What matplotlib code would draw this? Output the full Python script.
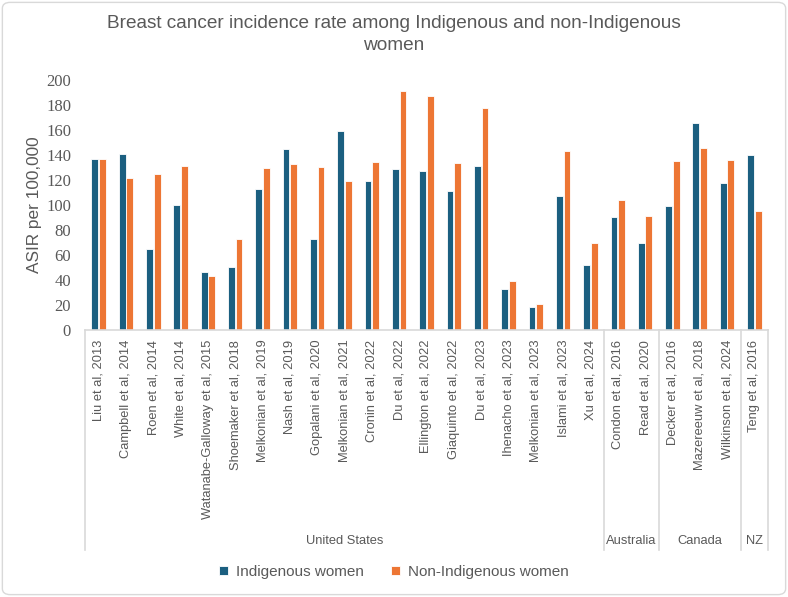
import matplotlib.pyplot as plt
import numpy as np
from matplotlib.patches import FancyBboxPatch

# region data
studies = ["Liu et al, 2013", "Campbell et al, 2014", "Roen et al, 2014", "White et al, 2014",
           "Watanabe-Galloway et al, 2015", "Shoemaker et al, 2018", "Melkonian et al, 2019",
           "Nash et al, 2019", "Gopalani et al, 2020", "Melkonian et al, 2021", "Cronin et al, 2022",
           "Du et al, 2022", "Ellington et al, 2022", "Giaquinto et al, 2022", "Du et al, 2023",
           "Ihenacho et al, 2023", "Melkonian et al, 2023", "Islami et al, 2023", "Xu et al, 2024",
           "Condon et al, 2016", "Read et al, 2020",
           "Decker et al, 2016", "Mazereeuw et al, 2018", "Wilkinson et al, 2024",
           "Teng et al, 2016"]
indigenous = [137, 140.5, 64.7, 100, 46.5, 50.8, 112.6, 145.2, 72.5, 159, 119, 129,
              127.5, 111.5, 131.6, 32.9, 18.5, 107, 52.4,
              90.6, 69.8,
              99.5, 165.5, 117.4,
              140]
non_indigenous = [137, 121.7, 125, 131.6, 43, 73, 130, 133.2, 130.8, 119, 134.8, 191,
                  187, 133.7, 177.3, 39.6, 20.9, 143, 69.3,
                  104.3, 91.5,
                  135, 146, 135.8,
                  95.5]
countries = ["United States", "Australia", "Canada", "NZ"]
country_counts = [19, 2, 3, 1]
# endregion

blue = "#1b5f80"
orange = "#ed7634"
gray = "#595959"
line_gray = "#d9d9d9"

fig = plt.figure(figsize=(7.88, 5.97), dpi=100)
ax = fig.add_axes([85 / 788, (597 - 330) / 597, (768 - 85) / 788, 250 / 597])

x = np.arange(len(studies))
w = 0.25
ax.bar(x - 0.14, indigenous, w, color=blue, edgecolor="white", linewidth=0.6, label="Indigenous women")
ax.bar(x + 0.14, non_indigenous, w, color=orange, edgecolor="white", linewidth=0.6, label="Non-Indigenous women")

ax.set_xlim(-0.5, len(studies) - 0.5)
ax.set_ylim(0, 200)
ax.set_yticks(range(0, 201, 20))
for lab in ax.get_yticklabels():
    lab.set_family("Liberation Serif")
ax.tick_params(axis="y", length=0, labelsize=12, labelcolor=gray, pad=10)
ax.set_xticks(x)
ax.set_xticklabels(studies, rotation=90, fontsize=9.3, color=gray, family="Liberation Sans")
ax.tick_params(axis="x", length=0, pad=7)

for s in ["top", "right", "left"]:
    ax.spines[s].set_visible(False)
ax.spines["bottom"].set_color(line_gray)
ax.spines["bottom"].set_linewidth(1.2)

ax.set_ylabel("ASIR per 100,000", fontsize=12.4, color=gray, family="Liberation Sans", labelpad=3)

# country separators and labels below the axis
tr = ax.get_xaxis_transform()
edges = np.concatenate([[0], np.cumsum(country_counts)]) - 0.5
for e in edges:
    ax.plot([e, e], [0, -0.88], transform=tr, color=line_gray, lw=1.2, clip_on=False)
for name, a, b in zip(countries, edges[:-1], edges[1:]):
    ax.text((a + b) / 2, -0.845, name, transform=tr, ha="center", va="center",
            fontsize=9.3, color=gray, family="Liberation Sans")

fig.suptitle("Breast cancer incidence rate among Indigenous and non-Indigenous\nwomen",
             y=0.975, fontsize=13.7, color=gray, family="Liberation Sans", linespacing=1.4)

leg = fig.legend(loc="center", bbox_to_anchor=(0.5, 1 - 572 / 597), ncol=2, frameon=False,
                 prop={"family": "Liberation Sans", "size": 11}, handlelength=0.6,
                 handleheight=0.6, columnspacing=1.8, handletextpad=0.5)
for t in leg.get_texts():
    t.set_color(gray)

fig.patches.append(FancyBboxPatch((0.003, 0.004), 0.994, 0.992, boxstyle="round,pad=0,rounding_size=0.01",
                                  transform=fig.transFigure, fill=False, edgecolor=line_gray, lw=1))

fig.savefig("out.png", dpi=100)
